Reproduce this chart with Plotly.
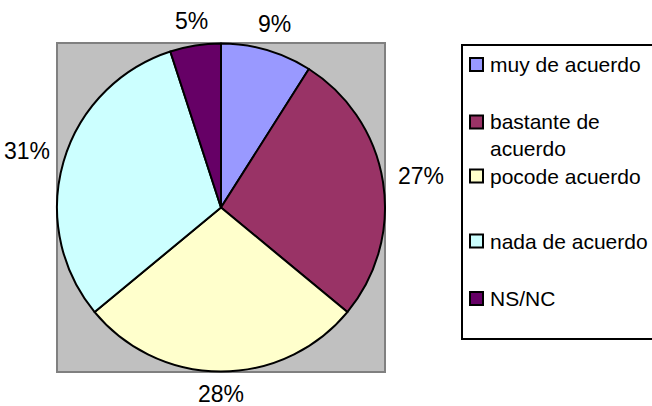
import math
import plotly.graph_objects as go

W, H = 652, 406

categories = ["muy de acuerdo", "bastante de acuerdo", "pocode acuerdo", "nada de acuerdo", "NS/NC"]
legend_text = ["muy de acuerdo", "bastante de<br>acuerdo", "pocode acuerdo", "nada de acuerdo", "NS/NC"]
values = [9, 27, 28, 31, 5]
colors = ["#9999FF", "#993366", "#FFFFCC", "#CCFFFF", "#660066"]

FONT = "Liberation Sans, Arial, sans-serif"
LABEL_SIZE = 23
LEGEND_SIZE = 21


def px(x):
    return x / W


def py(y):
    return 1 - y / H


# pie area (pixel box)
cx, cy, r = 221, 207.5, 164

fig = go.Figure()
fig.add_trace(go.Pie(
    labels=categories,
    values=values,
    marker=dict(colors=colors, line=dict(color="black", width=2)),
    sort=False,
    direction="clockwise",
    rotation=0,
    textinfo="none",
    domain=dict(x=[px(cx - r), px(cx + r)], y=[py(cy + r), py(cy - r)]),
    showlegend=False,
    hoverinfo="label+percent",
))

shapes = []
annotations = []

# percentage labels placed outside the pie along each slice's mid-angle
total = sum(values)
cum = 0
for v in values:
    mid = (cum + v / 2) / total * 2 * math.pi
    cum += v
    ux, uy = math.sin(mid), -math.cos(mid)
    pct = f"{round(v / total * 100)}%"
    tw = (0.556 * (len(pct) - 1) + 0.889) * LABEL_SIZE
    th = 17
    k = 178 + tw / 2 * abs(ux) + th / 2 * abs(uy)
    lx, ly = cx + k * ux, cy + k * uy
    annotations.append(dict(text=pct, xref="paper", yref="paper",
                            x=px(lx), y=py(ly), xanchor="center", yanchor="middle",
                            showarrow=False,
                            font=dict(family=FONT, size=LABEL_SIZE, color="black")))

# gray plot background
shapes.append(dict(type="rect", xref="paper", yref="paper", layer="below",
                   x0=px(57), x1=px(385), y0=py(372), y1=py(43),
                   fillcolor="#C0C0C0", line=dict(color="#808080", width=2)))
# legend box (its right side runs past the page edge)
shapes.append(dict(type="rect", xref="paper", yref="paper", layer="below",
                   x0=px(462), x1=px(700), y0=py(339), y1=py(45),
                   fillcolor="white", line=dict(width=0)))
lp = (f"M {px(720)},{py(45)} L {px(462)},{py(45)} "
      f"L {px(462)},{py(339)} L {px(720)},{py(339)}")
shapes.append(dict(type="path", xref="paper", yref="paper", path=lp,
                   line=dict(color="black", width=2)))

row_y = [64.5, 122, 176, 241, 298.5]
for name, col, yy in zip(legend_text, colors, row_y):
    shapes.append(dict(type="rect", xref="paper", yref="paper",
                       x0=px(470), x1=px(483), y0=py(yy + 6.5), y1=py(yy - 6.5),
                       fillcolor=col, line=dict(color="black", width=2)))
    lines = name.split("<br>")
    for i, t in enumerate(lines):
        annotations.append(dict(text=t, xref="paper", yref="paper",
                                x=px(488), y=py(yy + 26 * i), xanchor="left", yanchor="middle",
                                showarrow=False,
                                font=dict(family=FONT, size=LEGEND_SIZE, color="black")))

fig.update_layout(
    width=W, height=H,
    margin=dict(l=0, r=0, t=0, b=0),
    paper_bgcolor="white",
    plot_bgcolor="white",
    shapes=shapes,
    annotations=annotations,
)

fig.write_html("out.html",
               config={"displayModeBar": False},
               post_script="document.body.style.margin='0';document.body.style.overflow='hidden';")
